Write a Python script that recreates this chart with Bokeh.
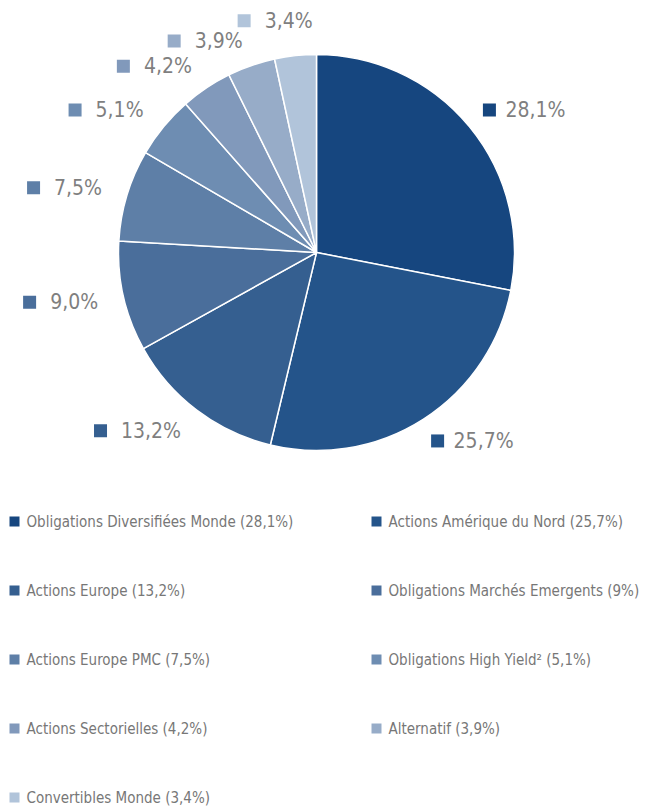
import numpy as np
from bokeh.plotting import figure
from bokeh.models import Range1d, ColumnDataSource
from bokeh.core.properties import value
from bokeh.embed import file_html
from bokeh.resources import INLINE

# ---- data ----
categories = ["Obligations Diversifiées Monde", "Actions Amérique du Nord", "Actions Europe",
              "Obligations Marchés Emergents", "Actions Europe PMC", "Obligations High Yield²",
              "Actions Sectorielles", "Alternatif", "Convertibles Monde"]
values = [28.1, 25.7, 13.2, 9.0, 7.5, 5.1, 4.2, 3.9, 3.4]
slice_labels = ["28,1%", "25,7%", "13,2%", "9,0%", "7,5%", "5,1%", "4,2%", "3,9%", "3,4%"]
legend_pct = ["28,1%", "25,7%", "13,2%", "9%", "7,5%", "5,1%", "4,2%", "3,9%", "3,4%"]
colors = ["#16467f", "#24548a", "#355f90", "#4a6e9b", "#5e7fa7", "#6e8db2", "#8199bb", "#97acc8", "#b1c4da"]

FONT = "DejaVu Sans Condensed"
LABEL_COLOR = "#7f7f7f"

W, H = 645, 808
p = figure(width=W, height=H, output_backend="svg", toolbar_location=None,
           x_range=Range1d(0, W), y_range=Range1d(-H, 0),
           min_border=0)
p.axis.visible = False
p.grid.visible = False
p.outline_line_color = None
p.background_fill_color = "white"

# pie geometry (page pixels; y negated)
cx, cy, r = 316, -252, 198
vals = np.array(values)
frac = vals / vals.sum()
cum_end = np.cumsum(frac)
cum_start = cum_end - frac
start_ang = np.pi / 2 - 2 * np.pi * cum_start
end_ang = np.pi / 2 - 2 * np.pi * cum_end

src = ColumnDataSource(dict(x=[cx] * len(vals), y=[cy] * len(vals), s=start_ang, e=end_ang, c=colors))
p.wedge(x="x", y="y", radius=r, start_angle="s", end_angle="e", direction="clock",
        fill_color="c", line_color="white", line_width=1.5, source=src)

# slice labels
LR = 224
fs = 21
cw = {",": 0.32, "%": 0.85}
mid = (cum_start + cum_end) / 2 * 2 * np.pi  # clockwise from top
for i, t in enumerate(slice_labels):
    ax = cx + LR * np.sin(mid[i])
    ay = cy + LR * np.cos(mid[i])
    if i == len(slice_labels) - 1:
        ay += 9
        ax += 20
    if np.sin(mid[i]) >= 0:
        sqx = ax
        tx = ax + 16
        p.text(x=[tx], y=[ay], text=[t], text_font=value(FONT), text_font_size=f"{fs}px",
               text_color=LABEL_COLOR, text_align="left", text_baseline="middle")
    else:
        tw = sum(cw.get(ch, 0.57) for ch in t) * fs
        sqx = ax - tw - 20
        p.text(x=[ax], y=[ay], text=[t], text_font=value(FONT), text_font_size=f"{fs}px",
               text_color=LABEL_COLOR, text_align="right", text_baseline="middle")
    p.scatter(x=[sqx], y=[ay], marker="square", size=13, fill_color=colors[i], line_color=None)

# legend
row0, row_step = -521, -69
col_sq = [14, 376]
for i, (c, pc) in enumerate(zip(categories, legend_pct)):
    row, col = divmod(i, 2)
    y = row0 + row * row_step
    p.scatter(x=[col_sq[col]], y=[y], marker="square", size=10, fill_color=colors[i], line_color=None)
    p.text(x=[col_sq[col] + 12], y=[y], text=[f"{c} ({pc})"], text_font=value(FONT),
           text_font_size="15px", text_color="#777777", text_align="left", text_baseline="middle")

open("out.html", "w").write(file_html(p, INLINE))
